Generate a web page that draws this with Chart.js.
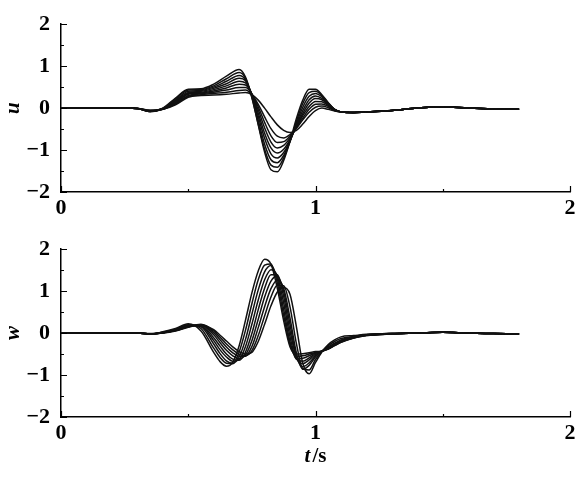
<!DOCTYPE html>
<html>
<head>
<meta charset="utf-8">
<script src="https://cdn.jsdelivr.net/npm/chart.js@4/dist/chart.umd.min.js"></script>
<style>
  body { margin: 0; background: #fff; }
  .panel { position: absolute; left: 0; }
</style>
</head>
<body>
<div class="panel" style="top:0"><canvas id="uChart" width="587" height="225"></canvas></div>
<div class="panel" style="top:225px"><canvas id="wChart" width="587" height="253"></canvas></div>
<script>
// time axis of the upper panel (u) and its nine traces
const tU = [0, 0.2, 0.3, 0.35, 0.4, 0.45, 0.5, 0.55, 0.6, 0.65, 0.7, 0.725, 0.75, 0.775, 0.8, 0.825, 0.85, 0.875,
    0.9, 0.925, 0.95, 0.975, 1.0, 1.025, 1.05, 1.075, 1.1, 1.15, 1.2, 1.3, 1.4, 1.5, 1.6, 1.7, 1.8];
const u1 = [0, 0, -0.01, -0.08, 0.00, 0.24, 0.45, 0.46, 0.57, 0.76, 0.92, 0.74, 0.26, -0.40, -1.05, -1.47, -1.52, -1.25,
    -0.79, -0.25, 0.19, 0.45, 0.45, 0.32, 0.13, -0.03, -0.09, -0.11, -0.09, -0.06, 0.00, 0.03, 0.00, -0.02, -0.03];
const u2 = [0, 0, -0.01, -0.08, -0.01, 0.22, 0.43, 0.44, 0.53, 0.70, 0.85, 0.71, 0.25, -0.38, -0.98, -1.36, -1.41, -1.19,
    -0.79, -0.32, 0.11, 0.37, 0.40, 0.30, 0.12, -0.03, -0.09, -0.11, -0.09, -0.06, 0.00, 0.03, 0.00, -0.02, -0.03];
const u3 = [0, 0, -0.01, -0.08, -0.01, 0.19, 0.40, 0.42, 0.50, 0.64, 0.78, 0.68, 0.29, -0.29, -0.86, -1.23, -1.30, -1.13,
    -0.79, -0.37, 0.02, 0.28, 0.35, 0.27, 0.11, -0.03, -0.09, -0.11, -0.09, -0.06, 0.00, 0.03, 0.00, -0.02, -0.03];
const u4 = [0, 0, -0.01, -0.08, -0.02, 0.17, 0.37, 0.40, 0.47, 0.58, 0.71, 0.65, 0.31, -0.20, -0.72, -1.09, -1.19, -1.06,
    -0.78, -0.41, -0.06, 0.20, 0.29, 0.23, 0.10, -0.03, -0.09, -0.11, -0.09, -0.06, 0.00, 0.03, 0.00, -0.02, -0.03];
const u5 = [0, 0, -0.01, -0.07, -0.02, 0.15, 0.35, 0.38, 0.44, 0.53, 0.64, 0.60, 0.33, -0.12, -0.60, -0.95, -1.07, -0.98,
    -0.75, -0.44, -0.13, 0.12, 0.23, 0.20, 0.08, -0.04, -0.09, -0.11, -0.09, -0.06, 0.00, 0.03, 0.00, -0.02, -0.03];
const u6 = [0, 0, -0.01, -0.07, -0.02, 0.13, 0.33, 0.36, 0.41, 0.48, 0.57, 0.55, 0.34, -0.04, -0.47, -0.81, -0.95, -0.89,
    -0.71, -0.46, -0.18, 0.04, 0.16, 0.15, 0.06, -0.04, -0.09, -0.10, -0.09, -0.06, 0.00, 0.03, 0.00, -0.02, -0.03];
const u7 = [0, 0, -0.01, -0.06, -0.03, 0.11, 0.30, 0.34, 0.38, 0.43, 0.49, 0.49, 0.34, 0.03, -0.34, -0.66, -0.82, -0.80,
    -0.67, -0.47, -0.24, -0.03, 0.09, 0.10, 0.04, -0.05, -0.09, -0.10, -0.09, -0.06, 0.00, 0.03, 0.00, -0.02, -0.03];
const u8 = [0, 0, -0.01, -0.06, -0.03, 0.10, 0.28, 0.32, 0.35, 0.38, 0.42, 0.43, 0.32, 0.09, -0.21, -0.49, -0.67, -0.71,
    -0.63, -0.48, -0.28, -0.10, 0.02, 0.05, 0.01, -0.06, -0.09, -0.10, -0.09, -0.06, 0.00, 0.03, 0.00, -0.02, -0.03];
const u9 = [0, 0, -0.01, -0.05, -0.03, 0.08, 0.26, 0.30, 0.31, 0.33, 0.36, 0.37, 0.32, 0.19, 0.00, -0.21, -0.40, -0.53,
    -0.58, -0.53, -0.38, -0.20, -0.06, 0.00, -0.03, -0.07, -0.09, -0.10, -0.09, -0.06, 0.00, 0.03, 0.00, -0.02, -0.03];

// time axis of the lower panel (w) and its nine traces
const tW = [0, 0.2, 0.3, 0.35, 0.4, 0.45, 0.5, 0.55, 0.6, 0.625, 0.65, 0.675, 0.7, 0.725, 0.75, 0.775, 0.8, 0.825, 0.85,
    0.875, 0.9, 0.925, 0.95, 0.975, 1.0, 1.025, 1.05, 1.075, 1.1, 1.15, 1.2, 1.3, 1.4, 1.5, 1.6, 1.7, 1.8];
const w1 = [0, 0, 0, -0.02, 0.03, 0.11, 0.22, 0.05, -0.46, -0.68, -0.79, -0.69, -0.30, 0.31, 0.96, 1.48, 1.76, 1.64, 1.07,
    0.29, -0.33, -0.50, -0.49, -0.47, -0.44, -0.43, -0.36, -0.26, -0.17, -0.08, -0.04, -0.01, 0.00, 0.02, 0.00, -0.01, -0.02];
const w2 = [0, 0, 0, -0.02, 0.02, 0.09, 0.20, 0.11, -0.36, -0.58, -0.72, -0.73, -0.45, 0.07, 0.70, 1.27, 1.62, 1.65, 1.19,
    0.42, -0.28, -0.56, -0.54, -0.50, -0.46, -0.43, -0.37, -0.28, -0.19, -0.09, -0.04, -0.01, 0.00, 0.02, 0.00, -0.01, -0.02];
const w3 = [0, 0, 0, -0.02, 0.02, 0.08, 0.19, 0.15, -0.26, -0.49, -0.66, -0.72, -0.57, -0.15, 0.45, 1.03, 1.46, 1.61, 1.29,
    0.56, -0.21, -0.61, -0.60, -0.54, -0.47, -0.43, -0.38, -0.29, -0.21, -0.10, -0.05, -0.01, 0.00, 0.02, 0.00, -0.01, -0.02];
const w4 = [0, 0, 0, -0.02, 0.01, 0.08, 0.18, 0.17, -0.18, -0.40, -0.57, -0.67, -0.63, -0.32, 0.21, 0.79, 1.27, 1.51, 1.36,
    0.72, -0.09, -0.62, -0.67, -0.59, -0.49, -0.43, -0.38, -0.30, -0.22, -0.11, -0.05, -0.02, 0.00, 0.02, 0.00, -0.01, -0.02];
const w5 = [0, 0, 0, -0.02, 0.01, 0.07, 0.17, 0.19, -0.11, -0.31, -0.50, -0.62, -0.65, -0.45, -0.01, 0.56, 1.07, 1.39, 1.39,
    0.87, 0.05, -0.59, -0.73, -0.64, -0.51, -0.43, -0.37, -0.29, -0.22, -0.12, -0.06, -0.02, 0.00, 0.02, 0.00, -0.01, -0.02];
const w6 = [0, 0, 0, -0.02, 0.01, 0.07, 0.16, 0.20, -0.04, -0.23, -0.41, -0.54, -0.61, -0.52, -0.18, 0.33, 0.86, 1.24, 1.36,
    0.99, 0.20, -0.55, -0.80, -0.71, -0.54, -0.43, -0.35, -0.27, -0.20, -0.12, -0.06, -0.02, 0.00, 0.02, 0.00, -0.01, -0.02];
const w7 = [0, 0, 0, -0.02, 0.01, 0.06, 0.15, 0.20, 0.01, -0.16, -0.33, -0.47, -0.55, -0.55, -0.32, 0.13, 0.63, 1.06, 1.26,
    1.07, 0.35, -0.47, -0.86, -0.77, -0.57, -0.43, -0.33, -0.24, -0.17, -0.10, -0.05, -0.02, 0.00, 0.02, 0.00, -0.01, -0.02];
const w8 = [0, 0, 0, -0.02, 0.00, 0.06, 0.15, 0.21, 0.05, -0.10, -0.26, -0.40, -0.50, -0.54, -0.42, -0.06, 0.41, 0.86, 1.14,
    1.13, 0.62, -0.25, -0.85, -0.88, -0.63, -0.44, -0.30, -0.20, -0.13, -0.08, -0.04, -0.01, 0.00, 0.02, 0.00, -0.01, -0.02];
const w9 = [0, 0, 0, -0.01, 0.00, 0.05, 0.14, 0.20, 0.08, -0.05, -0.19, -0.33, -0.44, -0.50, -0.46, -0.20, 0.21, 0.65, 0.98,
    1.08, 0.92, 0.15, -0.72, -0.97, -0.70, -0.45, -0.27, -0.16, -0.09, -0.06, -0.03, -0.01, 0.00, 0.02, 0.00, -0.01, -0.02];

// axis tick values
const xTicks = [0, 1, 2];
const yTicks = [-2, -1, 0, 1, 2];

const serif = 'Liberation Serif';

// short tick marks pointing into the plot (major at integers, minor at halves)
const innerTicks = {
    id: 'innerTicks',
    afterDraw(chart) {
        const ctx = chart.ctx;
        const xs = chart.scales.x;
        const ys = chart.scales.y;
        ctx.save();
        ctx.strokeStyle = '#000';
        ctx.lineWidth = 1.2;
        ctx.beginPath();
        xs.ticks.forEach(t => {
            const px = Math.round(xs.getPixelForValue(t.value)) + 0.5;
            const len = Number.isInteger(t.value) ? 6 : 3;
            ctx.moveTo(px, ys.bottom);
            ctx.lineTo(px, ys.bottom - len);
        });
        ys.ticks.forEach(t => {
            const py = Math.round(ys.getPixelForValue(t.value)) + 0.5;
            const len = Number.isInteger(t.value) ? 6 : 3;
            ctx.moveTo(xs.left, py);
            ctx.lineTo(xs.left + len, py);
        });
        ctx.stroke();
        ctx.restore();
    }
};

// "t/s" with an italic t under the lower panel
const timeTitle = {
    id: 'timeTitle',
    afterDraw(chart, args, opts) {
        if (!opts.show) return;
        const ctx = chart.ctx;
        const xs = chart.scales.x;
        const cx = (xs.left + xs.right) / 2;
        const cy = xs.bottom - 21;
        ctx.save();
        ctx.fillStyle = '#000';
        ctx.textBaseline = 'middle';
        ctx.font = 'italic bold 21px "' + serif + '"';
        const w1 = ctx.measureText('t').width;
        ctx.font = 'bold 21px "' + serif + '"';
        const w2 = ctx.measureText('/s').width;
        const x0 = cx - (w1 + 2 + w2) / 2;
        ctx.font = 'italic bold 21px "' + serif + '"';
        ctx.fillText('t', x0, cy);
        ctx.font = 'bold 21px "' + serif + '"';
        ctx.fillText('/s', x0 + w1 + 2, cy);
        ctx.restore();
    }
};

function makeChart(id, times, series, yName, xHeight, showTime) {
    const datasets = series.map(vals => ({
        data: times.map((t, i) => ({ x: t, y: vals[i] })),
        borderColor: '#111',
        borderWidth: 1.5,
        pointRadius: 0,
        fill: false,
        cubicInterpolationMode: 'monotone'
    }));
    return new Chart(document.getElementById(id), {
        type: 'line',
        data: { datasets: datasets },
        options: {
            responsive: false,
            animation: false,
            layout: { padding: { left: 0, top: 14, right: 17, bottom: 0 } },
            plugins: {
                legend: { display: false },
                tooltip: { enabled: false },
                timeTitle: { show: showTime }
            },
            scales: {
                x: {
                    type: 'linear',
                    min: xTicks[0],
                    max: xTicks[xTicks.length - 1],
                    afterFit: s => { s.height = xHeight; },
                    grid: { display: false, drawTicks: false },
                    border: { display: true, color: '#000', width: 1.5 },
                    ticks: {
                        stepSize: 0.5,
                        autoSkip: false,
                        maxRotation: 0,
                        padding: 3,
                        color: '#000',
                        font: { family: serif, size: 22, weight: 'bold' },
                        callback: v => xTicks.includes(v) ? String(v) : ''
                    }
                },
                y: {
                    type: 'linear',
                    min: yTicks[0],
                    max: yTicks[yTicks.length - 1],
                    afterFit: s => { s.width = 61; },
                    grid: { display: false, drawTicks: false },
                    border: { display: true, color: '#000', width: 1.5 },
                    title: {
                        display: true,
                        text: yName,
                        color: '#000',
                        padding: { top: 1, bottom: 0 },
                        font: { family: serif, size: 21, weight: 'bold', style: 'italic' }
                    },
                    ticks: {
                        stepSize: 0.5,
                        autoSkip: false,
                        padding: 11,
                        color: '#000',
                        font: { family: serif, size: 22, weight: 'bold' },
                        callback: v => yTicks.includes(v) ? String(v).replace('-', '\u2212') : ''
                    }
                }
            }
        },
        plugins: [innerTicks, timeTitle]
    });
}

makeChart('uChart', tU, [u1, u2, u3, u4, u5, u6, u7, u8, u9], 'u', 33, false);
makeChart('wChart', tW, [w1, w2, w3, w4, w5, w6, w7, w8, w9], 'w', 61, true);
</script>
</body>
</html>
